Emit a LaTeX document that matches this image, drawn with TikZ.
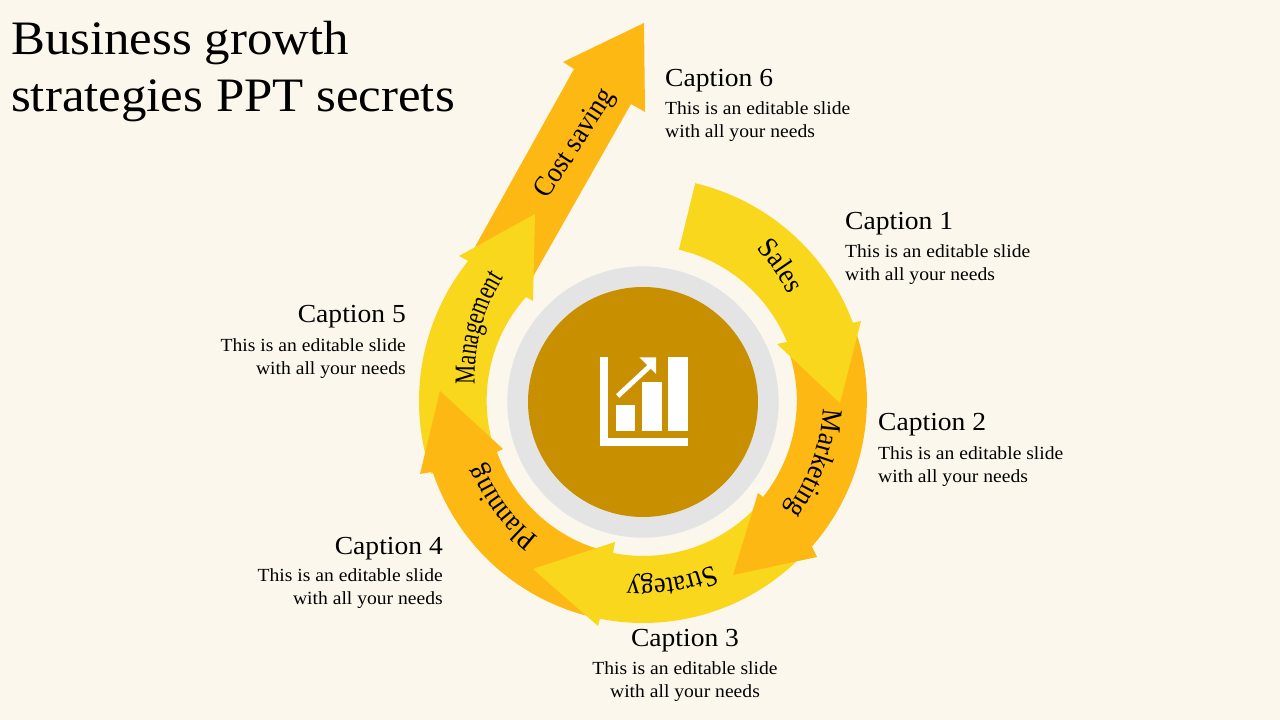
\documentclass[tikz,border=0pt]{standalone}
\usepackage{fontspec}
\setmainfont[FakeStretch=1.06]{Liberation Serif}
\newfontfamily\lblfam[FakeStretch=0.91]{Liberation Serif}
\newfontfamily\mgmtfam[FakeStretch=0.74]{Liberation Serif}
\usetikzlibrary{calc,decorations.text}
\definecolor{paper}{RGB}{251,247,237}
\definecolor{yel}{RGB}{249,215,28}
\definecolor{org}{RGB}{254,184,20}
\definecolor{ringgray}{RGB}{228,228,228}
\definecolor{hub}{RGB}{200,143,0}
\newcommand{\lblfont}{\lblfam\fontsize{29}{29}\selectfont}
\newcommand{\mgmtfont}{\mgmtfam\fontsize{29}{29}\selectfont}
\tikzset{
  heading/.style={font=\fontsize{26}{30}\selectfont,inner sep=0pt},
  bodytext/.style={font=\fontsize{18.5}{23.2}\selectfont,inner sep=0pt},
  headtitle/.style={font=\fontsize{48}{57}\selectfont,inner sep=0pt,align=left,anchor=north west},
  icon/.style={fill=white},
  curved/.style={decorate,decoration={text along path,text align=center,text={|\lblfont|#1}}},
  curvedm/.style={decorate,decoration={text along path,text align=center,text={|\mgmtfont|#1}}}
}
\begin{document}
\begin{tikzpicture}[x=1pt,y=1pt]
\useasboundingbox (0,0) rectangle (1280,720);
\fill[paper] (0,0) rectangle (1280,720);
\coordinate (C) at (643,319);
% cost saving
\fill[org] (644,697) -- (563,658) -- (574,651) -- (476,475) -- (471,464) -- (530,438) -- (631,616) -- (645,608) -- cycle;
% management
\fill[yel] ($(C)+(199:224)$) arc[start angle=199,end angle=141.3,radius=224] -- (459,464) -- (535,506) -- (533,419) -- (526,423)
  arc[start angle=138.4,end angle=199,radius=156] -- cycle;
% planning
\fill[org] ($(C)+(257:222)$) arc[start angle=257,end angle=198.6,radius=222] -- (420,246) -- (440,329) -- (503,271) -- (497,268)
  arc[start angle=199.3,end angle=257,radius=155] -- cycle;
% strategy
\fill[yel] ($(C)+(-38:222)$) arc[start angle=-38,end angle=-101.2,radius=222] -- (598,94) -- (533,151) -- (615,178) -- (613,167)
  arc[start angle=-101.2,end angle=-36,radius=155] -- cycle;
% marketing
\fill[org] ($(C)+(20:224)$) arc[start angle=20,end angle=-41.2,radius=222] -- (817,163) -- (733,145) -- (758,227) -- (763,223)
  arc[start angle=-38.7,end angle=18,radius=154] -- cycle;
% sales
\fill[yel] ($(C)+(76.5:224)$) arc[start angle=76.5,end angle=20.4,radius=224] -- (861,399) -- (840,317) -- (777,376) -- (787,378)
  arc[start angle=22.3,end angle=76.7,radius=155.5] -- cycle;
% hub
\fill[ringgray] (643,318) circle[radius=135.7];
\fill[hub] (643,318) circle[radius=115];
% icon
\fill[icon] (600,362.7) rectangle (608.3,274);
\fill[icon] (600,281.7) rectangle (688,274);
\fill[icon] (615.7,315) rectangle (635,289.3);
\fill[icon] (642.3,337.7) rectangle (661.7,289.3);
\fill[icon] (668.3,362.7) rectangle (687.7,289.3);
\draw[white,line width=5pt] (617.7,324) -- (650,354);
\fill[icon] (639.3,362.7) -- (656,362.7) -- (656,346) -- cycle;
% curved labels
\coordinate (Cs) at ($(C)+(135:32)$);
\coordinate (Cm) at ($(C)+(66:29)+(4,-2)$);
\path[curved={Sales}] ($(Cs)+(85:188)$) arc[start angle=85,end angle=-15,radius=188];
\path[curved={Marketing}] ($(C)+(30:180)$) arc[start angle=30,end angle=-70,radius=180];
\path[curved={Strategy}] ($(C)+(-30:179)$) arc[start angle=-30,end angle=-132,radius=179];
\path[curved={Planning}] ($(C)+(267:172)$) arc[start angle=267,end angle=167,radius=172];
\path[curvedm={Management}] ($(Cm)+(219:184)$) arc[start angle=219,end angle=111,radius=184];
\node[rotate=57,font=\lblfont,inner sep=0pt] (cost) at (576,576) {Cost saving};
% title
\node[headtitle] (title) at (11,699) {Business growth\\strategies PPT secrets};
% captions
\node[heading,anchor=west] (c6) at (665,639) {Caption 6};
\node[bodytext,align=left,anchor=north west] (b6) at (665,619) {This is an editable slide\\with all your needs};
\node[heading,anchor=west] (c1) at (845,496) {Caption 1};
\node[bodytext,align=left,anchor=north west] (b1) at (845,476) {This is an editable slide\\with all your needs};
\node[heading,anchor=west] (c2) at (878,295) {Caption 2};
\node[bodytext,align=left,anchor=north west] (b2) at (878,274) {This is an editable slide\\with all your needs};
\node[heading,anchor=center] (c3) at (685,79) {Caption 3};
\node[bodytext,align=center,anchor=north] (b3) at (685,58.5) {This is an editable slide\\with all your needs};
\node[heading,anchor=east] (c4) at (443,171) {Caption 4};
\node[bodytext,align=right,anchor=north east] (b4) at (443,152) {This is an editable slide\\with all your needs};
\node[heading,anchor=east] (c5) at (406,403) {Caption 5};
\node[bodytext,align=right,anchor=north east] (b5) at (406,382) {This is an editable slide\\with all your needs};
\end{tikzpicture}
\end{document}
